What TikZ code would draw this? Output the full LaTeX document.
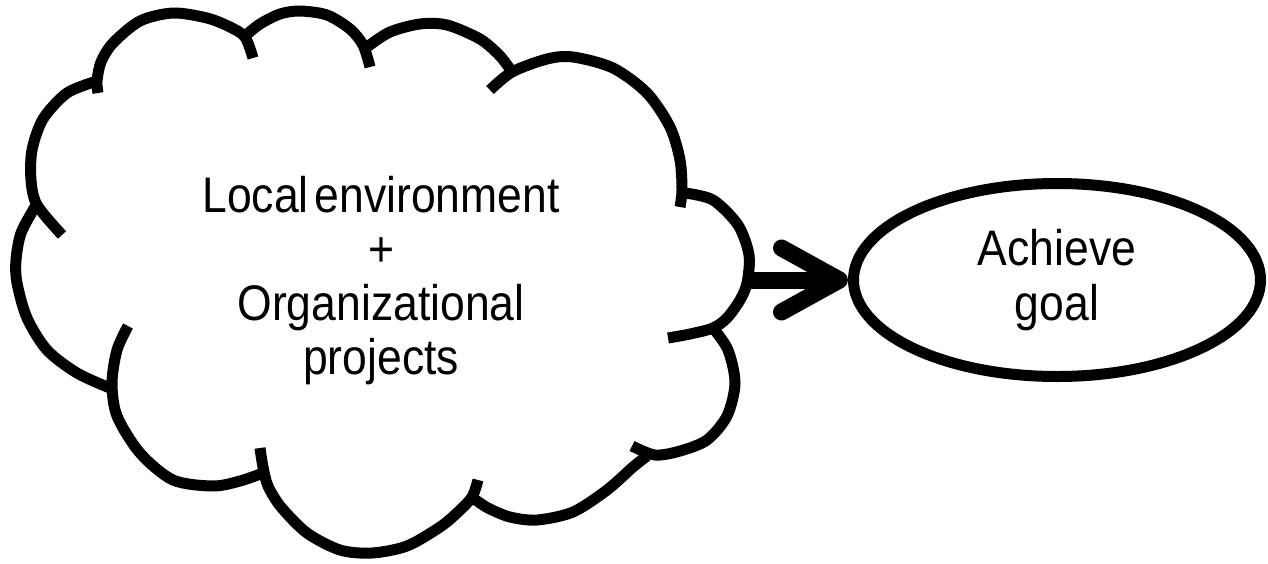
\documentclass[tikz,border=0pt]{standalone}
\usepackage{fontspec}
\setmainfont{Liberation Sans}[FakeStretch=0.89]
\usetikzlibrary{shapes.geometric,arrows.meta}
\begin{document}
\begin{tikzpicture}[x=1pt,y=-1pt,
  bump/.style={line width=11pt, line join=round},
  cloudtxt/.style={font=\fontsize{50}{54}\selectfont, align=center, inner sep=0pt},
  goalshape/.style={ellipse, draw, line width=11pt, minimum width=407pt,
    minimum height=193pt, inner sep=0pt, align=center,
    font=\fontsize{50}{55}\selectfont},
  flow/.style={line width=17pt, -{Straight Barb[length=58pt,width=64pt,round]}}]
\useasboundingbox (0,0) rectangle (1268,563);

% cloud outline, one arc per bump (clockwise from the left)
\draw[bump] plot[smooth] coordinates {(110,388) (77,373) (47,350) (27,318) (17,283) (16,260) (21,233) (35,207)};
\draw[bump] plot[smooth] coordinates {(62,235) (37,205) (31,180) (32,150) (43,119) (67,93) (97,81)};
\draw[bump] plot[smooth] coordinates {(98,93) (97,81) (101,62) (113,43) (140,21) (173,13) (207,18) (230,27) (245,37) (253,58)};
\draw[bump] plot[smooth] coordinates {(245,36) (260,24) (280,14) (300,11) (327,15) (350,29) (363,45) (370,67)};
\draw[bump] plot[smooth] coordinates {(367,47) (390,32) (420,24) (447,25) (480,39) (500,56) (512,72)};
\draw[bump] plot[smooth] coordinates {(490,90) (512,72) (547,59) (573,57) (613,68) (647,93) (670,127) (680,160) (682,190) (680,207)};
\draw[bump] plot[smooth] coordinates {(685,193) (713,200) (738,225) (749,255) (747,283) (740,300) (727,318) (713,328) (690,334) (668,338)};
\draw[bump] plot[smooth] coordinates {(713,328) (728,350) (735,383) (727,416) (707,440) (680,451) (655,455) (632,446)};
\draw[bump] plot[smooth] coordinates {(647,456) (633,467) (607,490) (573,512) (537,520) (510,517) (488,508) (473,498)};
\draw[bump] plot[smooth] coordinates {(478,480) (472,497) (458,512) (440,527) (407,546) (372,553) (340,550) (307,533) (281,507) (268,486) (263,467) (260,448)};
\draw[bump] plot[smooth] coordinates {(128,326) (117,350) (112,383) (117,416) (140,453) (173,480) (213,486) (240,481) (263,473)};

\node[cloudtxt] (cloudtext) at (381,281)
  {Local\hspace{6pt}environment\\+\\Organizational\\projects};
\node[goalshape] (goal) at (1057,280) {Achieve\\goal};

\coordinate (cloudR) at (747,280);
\draw[flow] (cloudR) -- (goal.west);
\end{tikzpicture}
\end{document}
